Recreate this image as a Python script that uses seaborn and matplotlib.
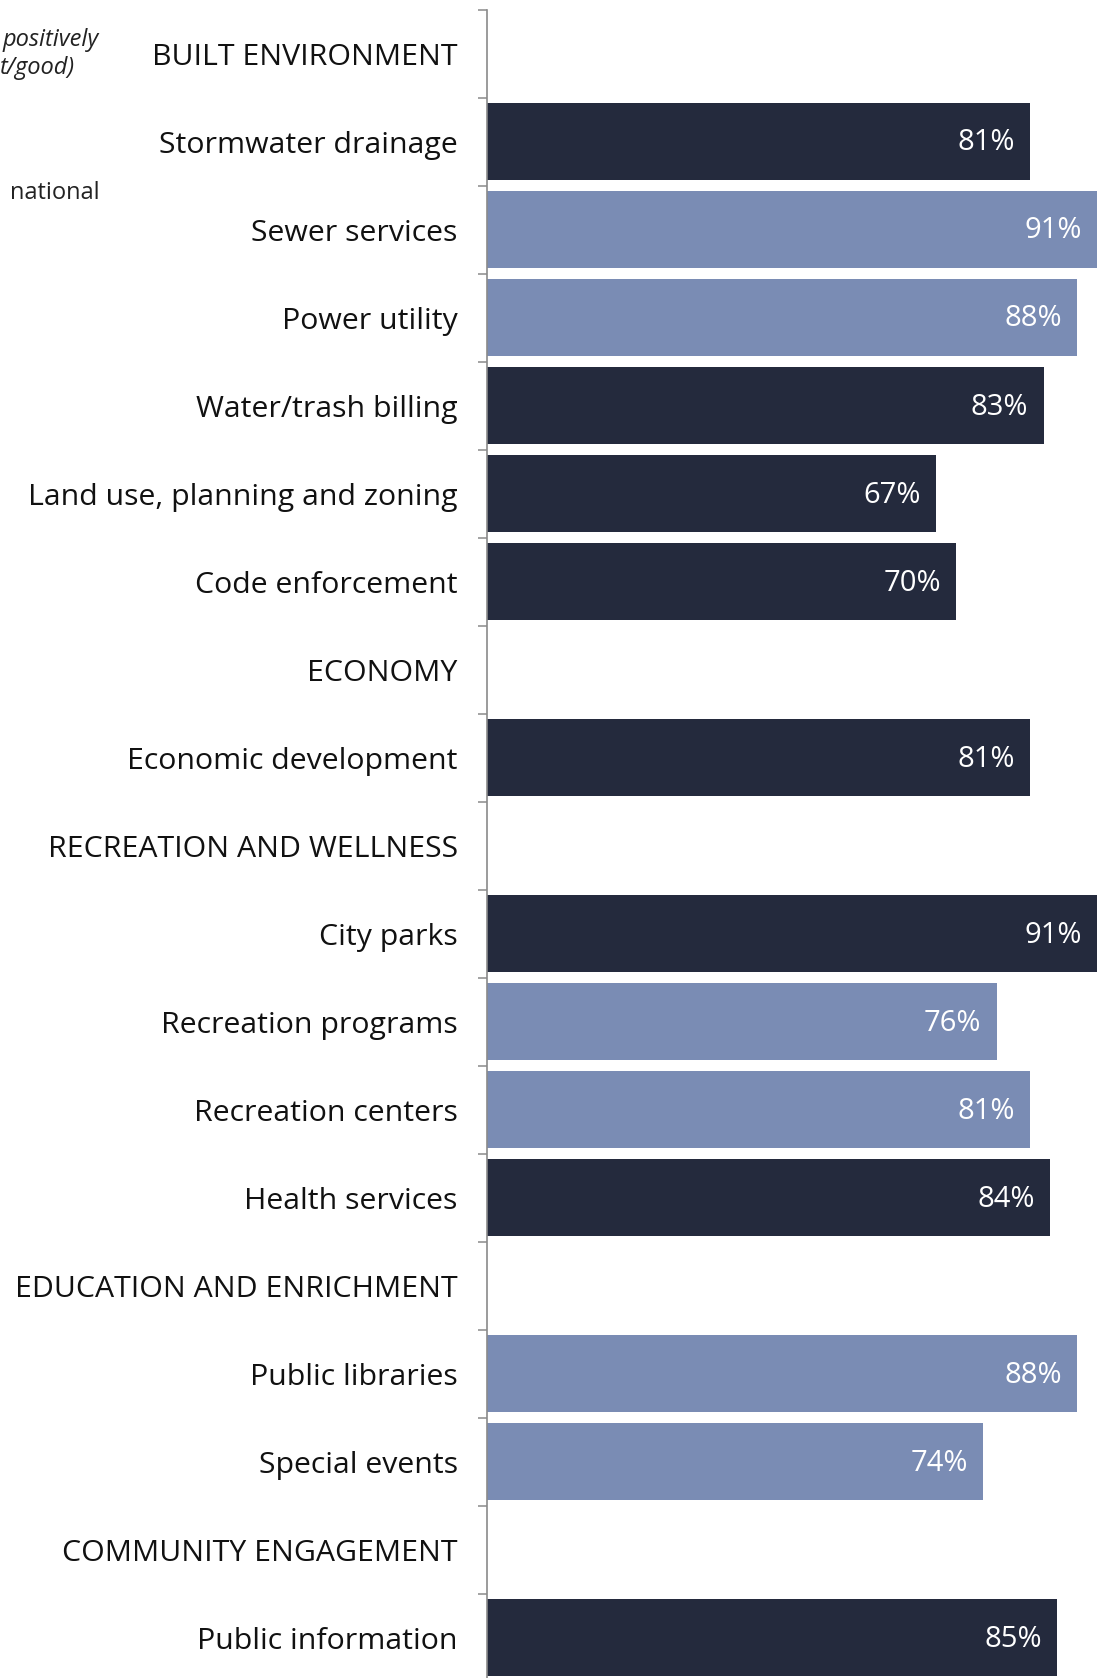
import numpy as np
import pandas as pd
import matplotlib
matplotlib.use("Agg")
import matplotlib.pyplot as plt
import matplotlib.transforms as mtransforms
import seaborn as sns

# Service ratings (percent rating positively); section headers carry no value
categories = [
    "BUILT ENVIRONMENT",
    "Stormwater drainage",
    "Sewer services",
    "Power utility",
    "Water/trash billing",
    "Land use, planning and zoning",
    "Code enforcement",
    "ECONOMY",
    "Economic development",
    "RECREATION AND WELLNESS",
    "City parks",
    "Recreation programs",
    "Recreation centers",
    "Health services",
    "EDUCATION AND ENRICHMENT",
    "Public libraries",
    "Special events",
    "COMMUNITY ENGAGEMENT",
    "Public information",
]
values = [np.nan, 81, 91, 88, 83, 67, 70, np.nan, 81, np.nan,
          91, 76, 81, 84, np.nan, 88, 74, np.nan, 85]
shade = ["", "dark", "light", "light", "dark", "dark", "dark", "", "dark", "",
         "dark", "light", "light", "dark", "", "light", "light", "", "dark"]

palette = {"dark": "#242a3d", "light": "#7a8cb4"}

df = pd.DataFrame({"category": categories, "value": values, "shade": shade})
bars = df.dropna(subset=["value"])

sns.set_style("white")
plt.rcParams["font.family"] = ["Open Sans", "DejaVu Sans"]

W, H, DPI = 1100, 1678, 100
fig = plt.figure(figsize=(W / DPI, H / DPI), dpi=DPI)
ax = fig.add_axes([487 / W, -4 / H, 1 - 487 / W, (1682 - 9.5) / H])

sns.barplot(data=bars, x="value", y="category", hue="shade", order=categories,
            hue_order=["dark", "light"], palette=palette, dodge=False,
            width=0.875, orient="h", legend=False, ax=ax, linewidth=0,
            saturation=1)

ax.set_xlim(0, 91.4)
ax.set_ylim(len(categories) - 0.5, -0.5)
ax.set_xlabel("")
ax.set_ylabel("")
ax.set_xticks([])

# Category labels on major ticks, boundary ticks as minor ticks
ax.set_yticks(range(len(categories)))
ax.set_yticklabels(categories, fontsize=21.8, color="#111111")
ax.set_yticks(np.arange(-0.5, len(categories), 1.0), minor=True)
ax.tick_params(axis="y", which="major", length=0, pad=21)
ax.tick_params(axis="y", which="minor", length=6.5, width=1.1,
               color="#8a8a8a", direction="out", left=True)

for side in ["top", "right", "bottom"]:
    ax.spines[side].set_visible(False)
ax.spines["left"].set_color("#8a8a8a")
ax.spines["left"].set_linewidth(1.2)

# Value labels inside the bar ends
offset = mtransforms.offset_copy(ax.transData, fig=fig, x=-11, y=-1, units="points")
for i, (v, cat) in enumerate(zip(values, categories)):
    if np.isnan(v):
        continue
    ax.text(v, i, f"{v:.0f}%", transform=offset, ha="right", va="center",
            color="white", fontsize=21)

# Legend notes at the left margin
fig.text(3 / W, 1 - 40 / H, "positively", ha="left", va="center",
         fontsize=17, style="italic", color="#222222")
fig.text(0 / W, 1 - 68 / H, "t/good)", ha="left", va="center",
         fontsize=17, style="italic", color="#222222")
fig.text(10 / W, 1 - 193 / H, "national", ha="left", va="center",
         fontsize=17, color="#222222")

fig.savefig("out.png", dpi=DPI)
